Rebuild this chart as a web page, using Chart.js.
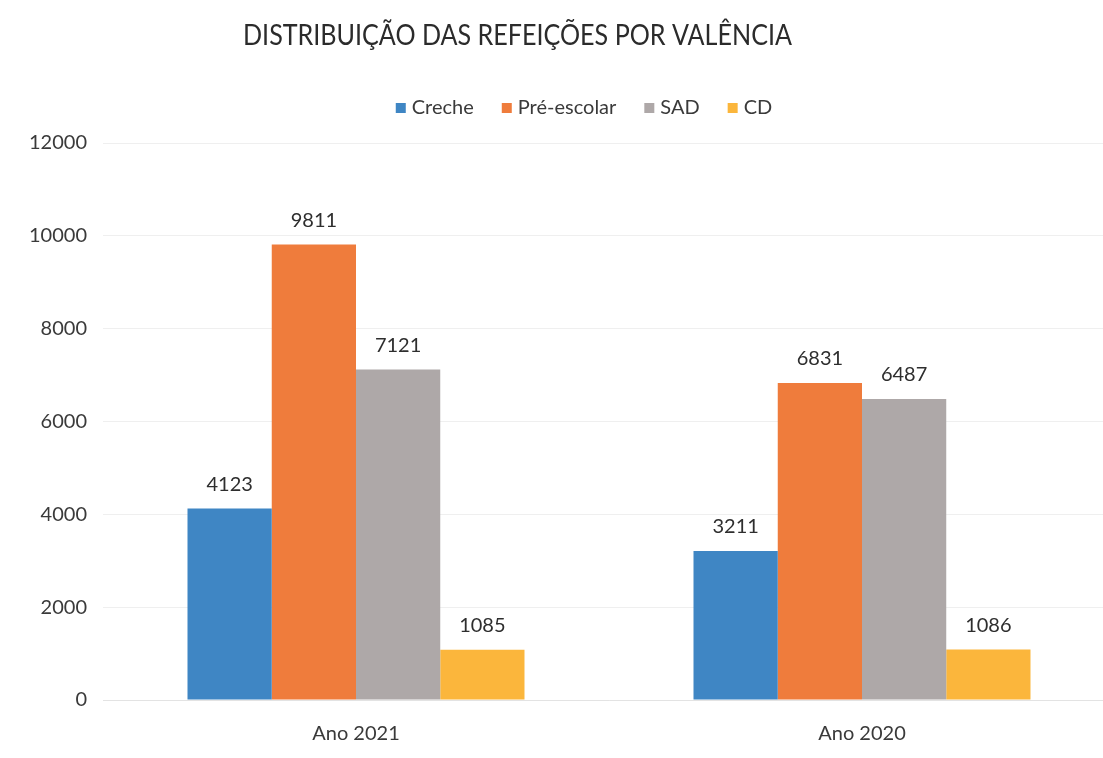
<!DOCTYPE html>
<html>
<head>
<meta charset="utf-8">
<script src="https://cdn.jsdelivr.net/npm/chart.js@4/dist/chart.umd.min.js"></script>
<style>
  html, body { margin: 0; padding: 0; background: #fff; overflow: hidden; }
  #wrap { position: relative; width: 1120px; height: 758px; }
</style>
</head>
<body>
<div id="wrap"><canvas id="c"></canvas></div>
<script>
const chartTitle = 'DISTRIBUIÇÃO DAS REFEIÇÕES POR VALÊNCIA';
const categories = ['Ano 2021', 'Ano 2020'];
const seriesNames = ['Creche', 'Pré-escolar', 'SAD', 'CD'];
const creche = [4123, 3211];
const preEscolar = [9811, 6831];
const sad = [7121, 6487];
const cd = [1085, 1086];
const yTicks = [0, 2000, 4000, 6000, 8000, 10000, 12000];
const colors = ['#3f86c4', '#ef7c3c', '#aea8a8', '#fbb63c'];

const FONT = 'Lato, "Open Sans", sans-serif';
const TEXT = '#3a3a3a';

const valueLabels = {
  id: 'valueLabels',
  afterDatasetsDraw(chart) {
    const ctx = chart.ctx;
    ctx.save();
    ctx.font = '20px ' + FONT;
    ctx.fillStyle = '#2e2e2e';
    ctx.textAlign = 'center';
    ctx.textBaseline = 'middle';
    chart.data.datasets.forEach((ds, i) => {
      chart.getDatasetMeta(i).data.forEach((bar, j) => {
        ctx.fillText(String(ds.data[j]), bar.x, bar.y - 24);
      });
    });
    ctx.restore();
  }
};

const headerPlugin = {
  id: 'header',
  afterDraw(chart) {
    const ctx = chart.ctx;
    ctx.save();
    ctx.font = '29px ' + FONT;
    ctx.fillStyle = '#2b2b2b';
    ctx.textBaseline = 'middle';
    const w = ctx.measureText(chartTitle).width;
    const target = 549;
    const sx = target / w;
    ctx.translate(243, 36);
    ctx.scale(sx, 1);
    ctx.textAlign = 'left';
    ctx.fillText(chartTitle, 0, 0);
    ctx.restore();

    ctx.save();
    ctx.font = '20px ' + FONT;
    ctx.textBaseline = 'middle';
    const items = chart.legend.legendItems || [];
    const box = 10, gap = 6, spacing = 28;
    let total = 0;
    const widths = items.map(it => ctx.measureText(it.text).width);
    items.forEach((it, i) => { total += box + gap + widths[i] + (i < items.length - 1 ? spacing : 0); });
    let x = 584 - total / 2;
    const y = 108;
    items.forEach((it, i) => {
      ctx.fillStyle = it.fillStyle;
      ctx.fillRect(x, y - box / 2, box, box);
      x += box + gap;
      ctx.fillStyle = TEXT;
      ctx.textAlign = 'left';
      ctx.fillText(it.text, x, y);
      x += widths[i] + spacing;
    });
    ctx.restore();
  }
};

const seriesData = [creche, preEscolar, sad, cd];

new Chart(document.getElementById('c'), {
  type: 'bar',
  data: {
    labels: categories,
    datasets: seriesNames.map((n, i) => ({
      label: n,
      data: seriesData[i],
      backgroundColor: colors[i],
      borderWidth: 0,
      categoryPercentage: 0.666,
      barPercentage: 1.0
    }))
  },
  options: {
    responsive: true,
    maintainAspectRatio: false,
    animation: false,
    layout: { padding: { top: 143, right: 5, bottom: 0, left: 0 } },
    plugins: {
      legend: { display: false },
      title: { display: false },
      tooltip: { enabled: false }
    },
    scales: {
      x: {
        grid: { display: false, drawTicks: false },
        border: { display: true, color: '#e3e3e3' },
        ticks: { color: TEXT, font: { family: FONT, size: 20 }, padding: 22 },
        afterFit(s) { s.height = 58; }
      },
      y: {
        min: 0, max: 12000,
        afterBuildTicks(s) { s.ticks = yTicks.map(v => ({ value: v })); },
        grid: { color: '#efefef', drawTicks: false },
        border: { display: false },
        ticks: { color: TEXT, font: { family: FONT, size: 20 }, padding: 16, callback: v => String(v) },
        afterFit(s) { s.width = 103; }
      }
    }
  },
  plugins: [valueLabels, headerPlugin]
});
</script>
</body>
</html>
